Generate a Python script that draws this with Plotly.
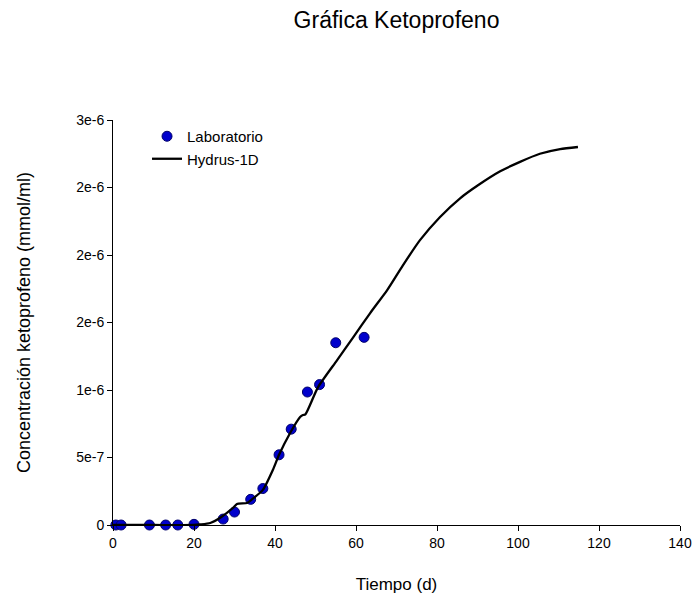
import plotly.graph_objects as go

# Laboratory data
lab_t = [0.7, 2.0, 9.0, 13.0, 16.0, 20.0, 27.2, 30.0, 34.0, 37.0, 41.0, 44.0, 48.0, 51.0, 55.0, 62.0]
lab_c = [0, 0, 0, 0, 0, 0.005e-6, 0.044e-6, 0.096e-6, 0.19e-6, 0.27e-6, 0.52e-6, 0.71e-6, 0.985e-6, 1.04e-6, 1.35e-6, 1.39e-6]

# Hydrus-1D simulation
hyd_t = [0, 10, 20, 21.5, 24, 26.4, 29.6, 30.6, 33.1, 34.1, 37.0, 39.5, 41.0, 43.7, 46.2, 46.9, 47.5,
         50.6, 55.3, 59.3, 63.5, 67.7, 71.5, 75.8, 80.7, 85.7, 90.3, 95.6, 100.5, 105.4, 110.4, 114.8]
hyd_c = [0, 0, 0, 0.004e-6, 0.015e-6, 0.052e-6, 0.126e-6, 0.156e-6, 0.163e-6, 0.185e-6, 0.26e-6, 0.41e-6,
         0.52e-6, 0.68e-6, 0.80e-6, 0.815e-6, 0.82e-6,
         1.02e-6, 1.22e-6, 1.39e-6, 1.57e-6, 1.74e-6, 1.92e-6, 2.11e-6, 2.28e-6, 2.42e-6, 2.52e-6, 2.62e-6,
         2.69e-6, 2.75e-6, 2.785e-6, 2.80e-6]

y_tickvals = [0, 0.5e-6, 1.0e-6, 1.5e-6, 2.0e-6, 2.5e-6, 3.0e-6]
y_ticktext = ["0", "5e-7", "1e-6", "2e-6", "2e-6", "2e-6", "3e-6"]
x_tickvals = [0, 20, 40, 60, 80, 100, 120, 140]

fig = go.Figure()
fig.add_trace(go.Scatter(
    x=lab_t, y=lab_c, mode="markers", name="Laboratorio",
    marker=dict(color="#0000CC", size=10, line=dict(color="#00006A", width=1)),
    cliponaxis=False,
))
fig.add_trace(go.Scatter(
    x=hyd_t, y=hyd_c, mode="lines", name="Hydrus-1D",
    line=dict(color="black", width=2.3, shape="spline", smoothing=0.6),
))

fig.update_layout(
    width=695, height=595,
    margin=dict(l=113, r=15, t=120, b=70),
    paper_bgcolor="white", plot_bgcolor="white",
    font=dict(family="Liberation Sans, Arial, sans-serif", color="black", size=14),
    title=dict(text="Gráfica Ketoprofeno", x=0.5, xref="paper", y=0.966, yref="container",
               xanchor="center", yanchor="middle", font=dict(size=23)),
    showlegend=True,
    legend=dict(x=0.06, y=1.0, xanchor="left", yanchor="top", bgcolor="rgba(0,0,0,0)",
                font=dict(size=15), tracegroupgap=0, itemwidth=30),
    xaxis=dict(range=[0, 140], tickvals=x_tickvals, showgrid=False, zeroline=False,
               showline=True, linecolor="black", linewidth=1, ticks="outside", ticklen=5,
               tickcolor="black", tickfont=dict(size=14), automargin=False,
               title=dict(text="Tiempo (d)", font=dict(size=17), standoff=28)),
    yaxis=dict(range=[0, 3e-6], tickvals=y_tickvals, ticktext=y_ticktext, showgrid=False,
               zeroline=False, showline=True, linecolor="black", linewidth=1, ticks="outside",
               ticklen=5, tickcolor="black", tickfont=dict(size=14), automargin=False,
               title=dict(text="Concentración ketoprofeno (mmol/ml)", font=dict(size=18), standoff=40)),
)

fig.write_html("out.html", config={"displayModeBar": False},
               post_script="document.body.style.margin='0px';")
